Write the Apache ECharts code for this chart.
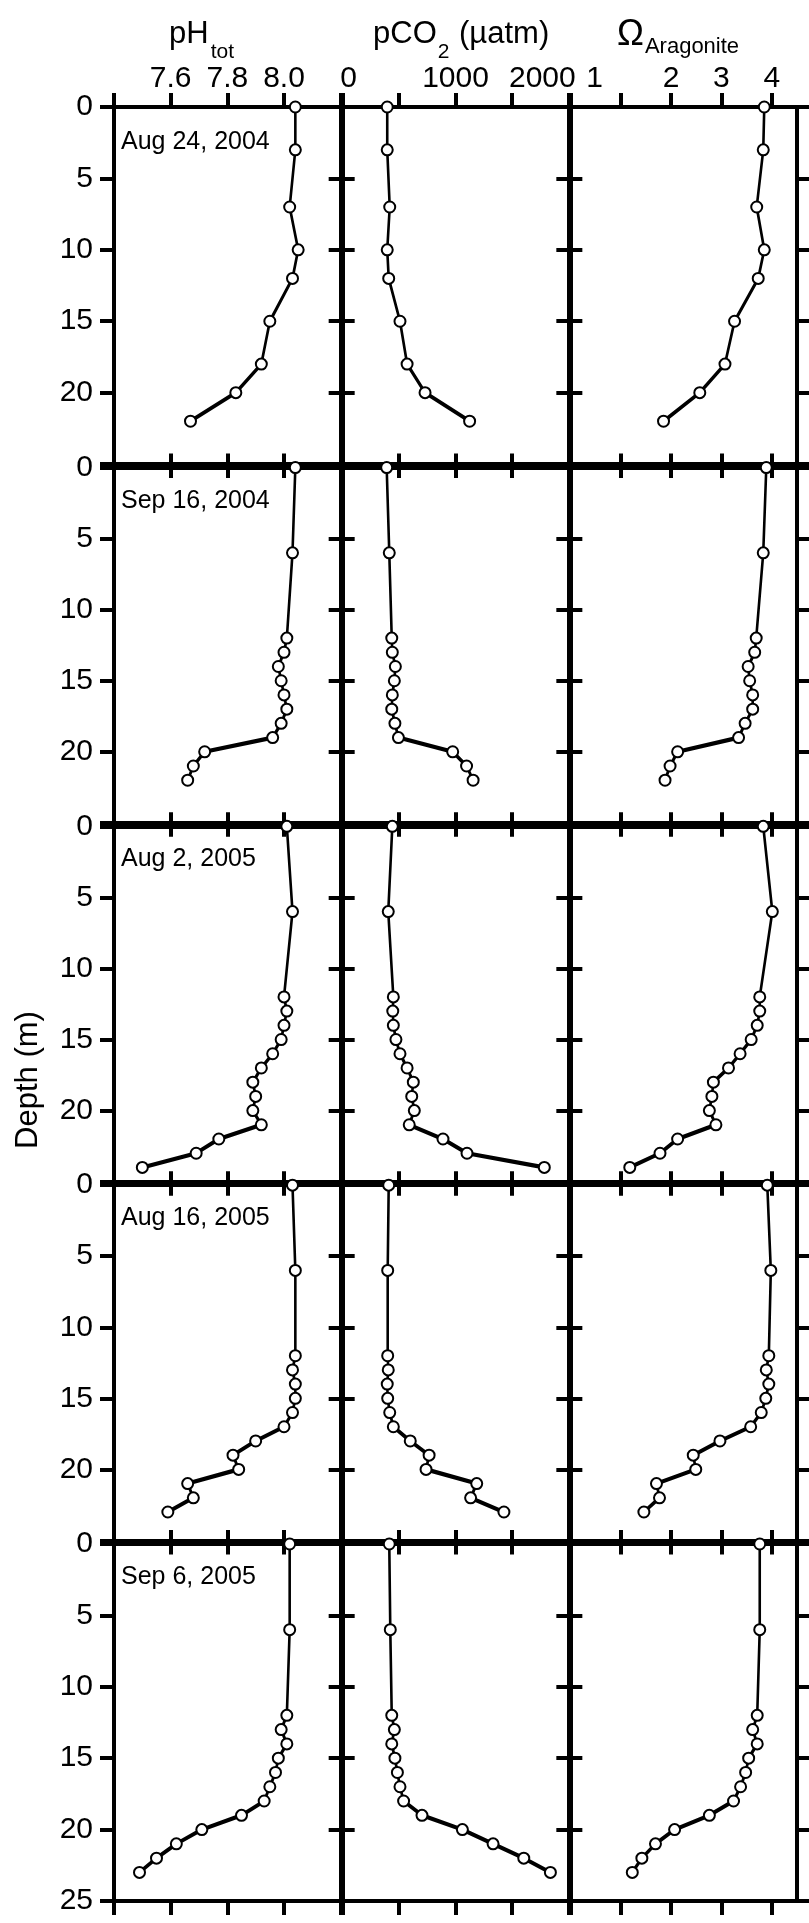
<!DOCTYPE html>
<html>
<head>
<meta charset="utf-8">
<script src="https://cdn.jsdelivr.net/npm/echarts@6/dist/echarts.min.js"></script>
<style>
  html, body { margin: 0; padding: 0; background: #fff; }
  #chart { width: 809px; height: 1923px; }
</style>
</head>
<body>
<div id="chart"></div>
<script>
// Profile dates (one row of panels per cruise)
const profileDates = ['Aug 24, 2004', 'Sep 16, 2004', 'Aug 2, 2005', 'Aug 16, 2005', 'Sep 6, 2005'];

// Aug 24, 2004
const depth_20040824 = [0, 3, 7, 10, 12, 15, 18, 20, 22];
const pH_20040824    = [8.04, 8.04, 8.02, 8.05, 8.03, 7.95, 7.92, 7.83, 7.67];
const pCO2_20040824  = [395, 395, 417, 395, 408, 508, 571, 730, 1125];
const omega_20040824 = [3.85, 3.83, 3.70, 3.85, 3.73, 3.26, 3.07, 2.57, 1.85];

// Sep 16, 2004
const depth_20040916 = [0, 6, 12, 13, 14, 15, 16, 17, 18, 19, 20, 21, 22];
const pH_20040916    = [8.04, 8.03, 8.01, 8.00, 7.98, 7.99, 8.00, 8.01, 7.99, 7.96, 7.72, 7.68, 7.66];
const pCO2_20040916  = [390, 413, 435, 440, 467, 458, 440, 435, 463, 494, 975, 1098, 1156];
const omega_20040916 = [3.89, 3.83, 3.69, 3.66, 3.53, 3.56, 3.62, 3.62, 3.47, 3.34, 2.13, 1.98, 1.88];

// Aug 2, 2005
const depth_20050802 = [0, 6, 12, 13, 14, 15, 16, 17, 18, 19, 20, 21, 22, 23, 24];
const pH_20050802    = [8.01, 8.03, 8.00, 8.01, 8.00, 7.99, 7.96, 7.92, 7.89, 7.90, 7.89, 7.92, 7.77, 7.69, 7.50];
const pCO2_20050802  = [440, 404, 449, 444, 449, 472, 508, 571, 626, 612, 635, 590, 889, 1102, 1787];
const omega_20050802 = [3.83, 4.01, 3.76, 3.76, 3.71, 3.59, 3.37, 3.14, 2.84, 2.81, 2.76, 2.89, 2.13, 1.78, 1.18];

// Aug 16, 2005
const depth_20050816 = [0, 6, 12, 13, 14, 15, 16, 17, 18, 19, 20, 21, 22, 23];
const pH_20050816    = [8.03, 8.04, 8.04, 8.03, 8.04, 8.04, 8.03, 8.00, 7.90, 7.82, 7.84, 7.66, 7.68, 7.59];
const pCO2_20050816  = [408, 399, 399, 404, 395, 399, 417, 449, 599, 766, 739, 1188, 1134, 1429];
const omega_20050816 = [3.91, 3.98, 3.94, 3.89, 3.94, 3.88, 3.79, 3.58, 2.97, 2.44, 2.49, 1.71, 1.77, 1.46];

// Sep 6, 2005
const depth_20050906 = [0, 6, 12, 13, 14, 15, 16, 17, 18, 19, 20, 21, 22, 23];
const pH_20050906    = [8.02, 8.02, 8.01, 7.99, 8.01, 7.98, 7.97, 7.95, 7.93, 7.85, 7.71, 7.62, 7.55, 7.49];
const pCO2_20050906  = [413, 422, 435, 458, 435, 463, 485, 508, 540, 703, 1061, 1333, 1605, 1841];
const omega_20050906 = [3.76, 3.76, 3.71, 3.62, 3.71, 3.54, 3.48, 3.38, 3.24, 2.76, 2.07, 1.69, 1.42, 1.23];

// Axis ticks and tick labels
const pHTicks = [7.4, 7.6, 7.8, 8.0, 8.2];
const pHTickLabels = [7.6, 7.8, 8.0];
const pCO2Ticks = [0, 500, 1000, 1500, 2000];
const pCO2TickLabels = [0, 1000, 2000];
const omegaTicks = [0, 1, 2, 3, 4];
const omegaTickLabels = [1, 2, 3, 4];
const depthTicks = [0, 5, 10, 15, 20, 25];

const profiles = [
  { depth: depth_20040824, cols: [pH_20040824, pCO2_20040824, omega_20040824] },
  { depth: depth_20040916, cols: [pH_20040916, pCO2_20040916, omega_20040916] },
  { depth: depth_20050802, cols: [pH_20050802, pCO2_20050802, omega_20050802] },
  { depth: depth_20050816, cols: [pH_20050816, pCO2_20050816, omega_20050816] },
  { depth: depth_20050906, cols: [pH_20050906, pCO2_20050906, omega_20050906] }
];

// Labels that sit off their tick get a padded rich box so the text slides sideways
const nudge = (text, dx) => dx === 0 ? text
  : (dx > 0 ? `{r|${text}}` : `{l|${text}}`);
const nudgeRich = {
  r: { padding: [0, 0, 0, 12] },   // ~6 px to the right
  l: { padding: [0, 52, 0, 0] }    // ~26 px to the left
};

const columns = [
  { min: 7.4, max: 8.2, ticks: pHTicks, labels: pHTickLabels,
    fmt: v => Number(v).toFixed(1) },
  { min: 0, max: 2000, ticks: pCO2Ticks, labels: pCO2TickLabels,
    fmt: v => { const t = String(Math.round(v)); return nudge(t, t === '0' ? 1 : (t === '2000' ? -1 : 0)); } },
  { min: 0, max: 4.5, ticks: omegaTicks, labels: omegaTickLabels,
    fmt: v => { const t = String(Math.round(v)); return nudge(t, t === '1' ? -1 : 0); } }
];

const FONT = '"Liberation Sans", Arial, Helvetica, sans-serif';
const LEFT = 114, TOP = 107, COL_W = 227.67, ROW_H = 358.8;
const LINE_W = 4, TICK_LEN = 14, TICK_FONT = 30;
// profile strokes read heavier where they run across the panel than where they run down it
const STROKE_BASE = 2.6, STROKE_ACROSS = 1.65;

const grid = [], xAxis = [], yAxis = [], series = [];

profiles.forEach((prof, r) => {
  columns.forEach((col, c) => {
    const g = grid.length;
    const x0 = LEFT + c * COL_W + (c > 0 ? 1 : 0);
    const x1 = LEFT + (c + 1) * COL_W - (c < 2 ? 1 : 0);
    const y0 = TOP + r * ROW_H + (r > 0 ? 1.75 : 0);
    const y1 = TOP + (r + 1) * ROW_H - (r < 4 ? 1.75 : 0);
    const gw = x1 - x0, gh = y1 - y0;
    grid.push({ left: x0, top: y0, width: gw, height: gh, containLabel: false });

    const axisLine = { onZero: false, lineStyle: { color: '#000', width: LINE_W } };
    const xTick = { show: true, length: TICK_LEN, customValues: col.ticks, lineStyle: { color: '#000', width: LINE_W } };
    const yTick = { show: true, length: TICK_LEN, customValues: depthTicks, lineStyle: { color: '#000', width: LINE_W } };

    // top axis (carries tick labels on the first row)
    const topIdx = xAxis.length;
    xAxis.push({
      gridIndex: g, type: 'value', position: 'top', min: col.min, max: col.max,
      axisLine, axisTick: xTick, splitLine: { show: false },
      axisLabel: r === 0 ? {
        show: true, customValues: col.labels, formatter: col.fmt, margin: 13,
        color: '#000', fontSize: TICK_FONT, fontFamily: FONT,
        rich: {
          r: Object.assign({ fontSize: TICK_FONT, fontFamily: FONT, color: '#000' }, nudgeRich.r),
          l: Object.assign({ fontSize: TICK_FONT, fontFamily: FONT, color: '#000' }, nudgeRich.l)
        }
      } : { show: false }
    });
    // bottom axis
    xAxis.push({
      gridIndex: g, type: 'value', position: 'bottom', min: col.min, max: col.max,
      axisLine, axisTick: xTick, splitLine: { show: false }, axisLabel: { show: false }
    });

    // depth axis on the left (labelled in first column)
    const leftIdx = yAxis.length;
    const depthLabels = r === 4 ? depthTicks : depthTicks.slice(0, 5);
    yAxis.push({
      gridIndex: g, type: 'value', position: 'left', inverse: true, min: 0, max: 25,
      axisLine, axisTick: yTick, splitLine: { show: false },
      axisLabel: c === 0 ? {
        show: true, customValues: depthLabels, margin: 21,
        color: '#000', fontSize: TICK_FONT, fontFamily: FONT
      } : { show: false }
    });
    yAxis.push({
      gridIndex: g, type: 'value', position: 'right', inverse: true, min: 0, max: 25,
      axisLine, axisTick: yTick, splitLine: { show: false }, axisLabel: { show: false }
    });

    const pts = prof.depth.map((d, i) => [prof.cols[c][i], d]);

    // connecting segments, stroke weight set from the segment's on-screen direction
    for (let i = 0; i < pts.length - 1; i++) {
      const dx = (pts[i + 1][0] - pts[i][0]) / (col.max - col.min) * gw;
      const dy = (pts[i + 1][1] - pts[i][1]) / 25 * gh;
      const len = Math.hypot(dx, dy) || 1;
      const s = Math.abs(dx) / len, co = Math.abs(dy) / len;
      const w = STROKE_BASE * Math.sqrt(co * co + STROKE_ACROSS * STROKE_ACROSS * s * s);
      series.push({
        type: 'line',
        xAxisIndex: topIdx,
        yAxisIndex: leftIdx,
        data: [pts[i], pts[i + 1]],
        showSymbol: false,
        symbol: 'none',
        lineStyle: { color: '#000', width: w, cap: 'round' },
        emphasis: { disabled: true },
        silent: true,
        clip: false,
        z: 4
      });
    }

    // sample markers
    series.push({
      type: 'scatter',
      xAxisIndex: topIdx,
      yAxisIndex: leftIdx,
      data: pts,
      symbol: 'circle',
      symbolSize: 11,
      itemStyle: { color: '#fff', borderColor: '#000', borderWidth: 2, opacity: 1 },
      emphasis: { disabled: true },
      clip: false,
      z: 5
    });
  });
});

// Column headers, cruise dates and the depth title
const headerMain = { fontSize: 31, fontFamily: FONT, lineHeight: 36, verticalAlign: 'top' };
const graphic = [
  {
    type: 'text', x: 169, y: 19,
    style: {
      text: '{m|pH}{s|tot}', fill: '#000', align: 'left', verticalAlign: 'top',
      rich: {
        m: headerMain,
        s: { fontSize: 21, fontFamily: FONT, lineHeight: 22, verticalAlign: 'top', padding: [23, 0, 0, 2] }
      }
    }
  },
  {
    type: 'text', x: 373, y: 19,
    style: {
      text: '{m|pCO}{s|2}{m| (µatm)}', fill: '#000', align: 'left', verticalAlign: 'top',
      rich: {
        m: headerMain,
        s: { fontSize: 21, fontFamily: FONT, lineHeight: 22, verticalAlign: 'top', padding: [23, 1, 0, 1] }
      }
    }
  },
  {
    type: 'text', x: 617, y: 17,
    style: {
      text: '{o|Ω}{s|Aragonite}', fill: '#000', align: 'left', verticalAlign: 'top',
      rich: {
        o: { fontSize: 36, fontFamily: FONT, lineHeight: 40, verticalAlign: 'top' },
        s: { fontSize: 22, fontFamily: FONT, lineHeight: 23, verticalAlign: 'top', padding: [19, 0, 0, 1] }
      }
    }
  },
  {
    type: 'text', x: 28, y: 1080, rotation: Math.PI / 2,
    style: { text: 'Depth (m)', fill: '#000', align: 'center', verticalAlign: 'middle', fontSize: 31, fontFamily: FONT }
  }
];
profileDates.forEach((d, r) => {
  graphic.push({
    type: 'text', x: 121, y: TOP + r * ROW_H + 35,
    style: { text: d, fill: '#000', align: 'left', verticalAlign: 'middle', fontSize: 25, fontFamily: FONT }
  });
});

const chart = echarts.init(document.getElementById('chart'), null, { renderer: 'canvas' });
chart.setOption({
  animation: false,
  backgroundColor: '#fff',
  grid, xAxis, yAxis, series, graphic
});
</script>
</body>
</html>
